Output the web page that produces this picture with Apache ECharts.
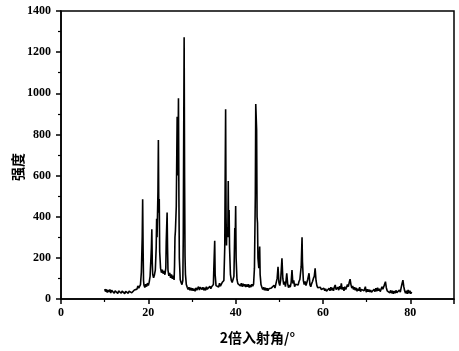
<!DOCTYPE html>
<html>
<head>
<meta charset="utf-8">
<script src="https://cdn.jsdelivr.net/npm/echarts@6/dist/echarts.min.js"></script>
<style>html,body{margin:0;padding:0;background:#fff;}#c{width:459px;height:351px;}</style>
</head>
<body>
<div id="c"></div>
<script>
const xTicks = [0, 20, 40, 60, 80];
const yTicks = [0, 200, 400, 600, 800, 1000, 1200, 1400];
const xName = '2倍入射角/°';
const yName = '强度';
// [2θ, intensity]
const xrdPoints = [
[10.0,48],[10.2,36],[10.4,47],[10.6,31],[10.8,44],[11.0,34],[11.2,46],[11.4,29],[11.6,42],[11.8,33],
[12.0,45],[12.2,28],[12.4,40],[12.6,32],[12.8,43],[13.0,27],[13.2,39],[13.4,31],[13.6,42],[13.8,28],
[14.0,38],[14.2,30],[14.4,41],[14.6,26],[14.8,37],[15.0,29],[15.2,40],[15.4,28],[15.6,38],[15.8,31],
[16.0,42],[16.2,30],[16.4,39],[16.6,32],[16.8,44],[17.0,36],[17.2,47],[17.4,48],[17.6,64],[17.8,53],
[18.0,62],[18.2,70],[18.4,130],[18.5,215],[18.6,300],[18.7,485],[18.8,250],[18.9,90],[19.0,67],[19.2,56],
[19.4,72],[19.6,60],[19.8,77],[20.0,66],[20.2,82],[20.4,110],[20.6,200],[20.7,250],[20.8,339],[20.9,180],
[21.0,120],[21.2,103],[21.4,117],[21.6,140],[21.8,250],[21.9,390],[22.0,300],[22.2,520],[22.3,773],[22.4,420],
[22.5,486],[22.6,230],[22.8,150],[23.0,128],[23.2,142],[23.4,123],[23.6,137],[23.8,118],[24.0,150],[24.1,280],
[24.3,420],[24.4,250],[24.5,140],[24.7,113],[24.9,127],[25.1,103],[25.3,120],[25.5,98],[25.7,114],[25.9,93],
[26.0,160],[26.1,300],[26.2,330],[26.4,450],[26.6,886],[26.7,600],[26.8,700],[26.9,976],[27.0,500],[27.1,200],
[27.3,95],[27.5,80],[27.7,70],[27.9,90],[28.0,300],[28.1,800],[28.2,1272],[28.3,600],[28.4,210],[28.5,120],
[28.7,70],[28.9,57],[29.1,46],[29.3,57],[29.5,43],[29.7,54],[29.9,42],[30.1,52],[30.3,40],[30.5,50],
[30.7,38],[30.9,54],[31.1,43],[31.3,52],[31.5,60],[31.7,44],[31.9,57],[32.1,64],[32.3,46],[32.5,57],
[32.7,43],[32.9,54],[33.1,42],[33.3,60],[33.5,48],[33.7,57],[33.9,46],[34.1,62],[34.3,50],[34.5,60],
[34.7,62],[34.9,70],[35.0,150],[35.2,283],[35.3,120],[35.5,65],[35.7,56],[35.9,74],[36.1,58],[36.3,77],
[36.5,63],[36.7,72],[36.9,80],[37.1,75],[37.3,90],[37.5,250],[37.6,600],[37.7,922],[37.8,400],[37.9,260],
[38.0,350],[38.2,300],[38.3,574],[38.4,300],[38.5,433],[38.6,250],[38.8,120],[39.0,90],[39.2,80],[39.4,95],
[39.6,110],[39.8,345],[39.9,300],[40.0,452],[40.1,200],[40.3,95],[40.5,75],[40.7,68],[40.9,82],[41.1,63],
[41.3,77],[41.5,60],[41.7,74],[41.9,62],[42.1,72],[42.3,58],[42.5,70],[42.7,60],[42.9,72],[43.1,56],
[43.3,68],[43.5,58],[43.7,72],[43.9,62],[44.1,72],[44.3,150],[44.5,500],[44.6,948],[44.7,940],[44.8,822],
[44.9,400],[45.0,369],[45.1,200],[45.3,150],[45.5,255],[45.6,120],[45.8,70],[46.0,57],[46.2,46],[46.4,57],
[46.6,43],[46.8,54],[47.0,42],[47.2,52],[47.4,40],[47.6,50],[47.8,57],[48.0,44],[48.2,54],[48.4,62],
[48.6,48],[48.8,67],[49.0,53],[49.2,72],[49.5,100],[49.7,157],[49.9,80],[50.1,65],[50.3,90],[50.6,198],
[50.8,100],[51.0,70],[51.2,85],[51.4,60],[51.7,125],[51.9,75],[52.1,55],[52.3,68],[52.5,58],[52.7,80],
[52.9,141],[53.1,75],[53.3,90],[53.5,60],[53.7,72],[53.9,63],[54.1,80],[54.3,68],[54.5,85],[54.7,95],
[55.0,157],[55.2,300],[55.3,180],[55.5,90],[55.7,70],[55.9,85],[56.1,65],[56.3,80],[56.5,95],[56.8,125],
[57.0,70],[57.2,60],[57.4,75],[57.6,85],[57.8,100],[58.0,110],[58.2,149],[58.4,90],[58.6,65],[58.8,55],
[59.0,62],[59.2,48],[59.4,57],[59.6,46],[59.8,54],[60.0,43],[60.2,52],[60.4,40],[60.6,50],[60.8,38],
[61.0,47],[61.2,36],[61.4,52],[61.6,40],[61.8,57],[62.0,43],[62.2,54],[62.4,40],[62.6,58],[62.8,68],
[63.0,46],[63.2,38],[63.4,57],[63.6,43],[63.8,62],[64.0,48],[64.2,76],[64.4,46],[64.6,57],[64.8,40],
[65.0,60],[65.2,46],[65.4,57],[65.6,70],[65.8,60],[66.0,80],[66.2,96],[66.4,70],[66.6,53],[66.8,64],
[67.0,46],[67.2,57],[67.4,43],[67.6,54],[67.8,38],[68.0,50],[68.2,40],[68.4,57],[68.6,36],[68.8,47],
[69.0,38],[69.2,52],[69.4,40],[69.7,60],[69.9,33],[70.1,47],[70.3,36],[70.5,46],[70.7,34],[70.9,44],
[71.1,33],[71.3,42],[71.5,31],[71.7,47],[71.9,36],[72.1,52],[72.3,38],[72.5,55],[72.7,40],[72.9,50],
[73.1,36],[73.3,47],[73.5,60],[73.7,48],[74.0,65],[74.3,84],[74.5,55],[74.7,40],[74.9,36],[75.1,47],
[75.3,30],[75.5,42],[75.7,28],[75.9,40],[76.1,26],[76.3,38],[76.5,28],[76.7,42],[76.9,31],[77.1,40],
[77.3,28],[77.5,44],[77.7,33],[77.9,55],[78.1,75],[78.3,92],[78.5,60],[78.7,40],[78.9,28],[79.1,40],
[79.3,25],[79.5,44],[79.7,28],[79.9,40],[80.1,26],[80.3,35]
];

const chart = echarts.init(document.getElementById('c'), null, {renderer: 'canvas'});
const labelFont = {fontFamily: 'Liberation Serif', fontWeight: 'bold', fontSize: 12, color: '#000'};
chart.setOption({
  animation: false,
  backgroundColor: '#fff',
  grid: {left: 61, right: 5, top: 11, bottom: 52, outerBoundsMode: 'none', containLabel: false, show: true, borderColor: '#000', borderWidth: 1.5, backgroundColor: 'transparent'},
  xAxis: {
    type: 'value', min: 0, max: 90, interval: 20,
    name: xName, nameLocation: 'middle', nameGap: 32, nameMoveOverlap: false,
    nameTextStyle: {fontFamily: 'Noto Sans CJK SC', fontWeight: 'bold', fontSize: 14, color: '#000'},
    axisLine: {show: true, onZero: false, lineStyle: {color: '#000', width: 1.5}},
    axisTick: {show: true, inside: false, length: 5, lineStyle: {color: '#000', width: 1.5}},
    minorTick: {show: true, splitNumber: 2, length: 3, lineStyle: {color: '#000', width: 1.2}},
    splitLine: {show: false},
    axisLabel: Object.assign({margin: 8, formatter: v => xTicks.includes(v) ? String(v) : ''}, labelFont)
  },
  yAxis: {
    type: 'value', min: 0, max: 1400, interval: 200,
    name: yName, nameLocation: 'middle', nameGap: 36, nameRotate: 90, nameMoveOverlap: false,
    nameTextStyle: {fontFamily: 'Noto Sans CJK SC', fontWeight: 'bold', fontSize: 14, color: '#000', padding: [0, 24, 0, 0]},
    axisLine: {show: true, lineStyle: {color: '#000', width: 1.5}},
    axisTick: {show: true, inside: false, length: 5, lineStyle: {color: '#000', width: 1.5}},
    minorTick: {show: true, splitNumber: 2, length: 3, lineStyle: {color: '#000', width: 1.2}},
    splitLine: {show: false},
    axisLabel: Object.assign({margin: 10, formatter: v => yTicks.includes(v) ? String(v) : ''}, labelFont)
  },
  series: [{
    type: 'line',
    data: xrdPoints,
    showSymbol: false,
    symbol: 'none',
    lineStyle: {color: '#000', width: 1.6},
    smooth: false
  }]
});
</script>
</body>
</html>
